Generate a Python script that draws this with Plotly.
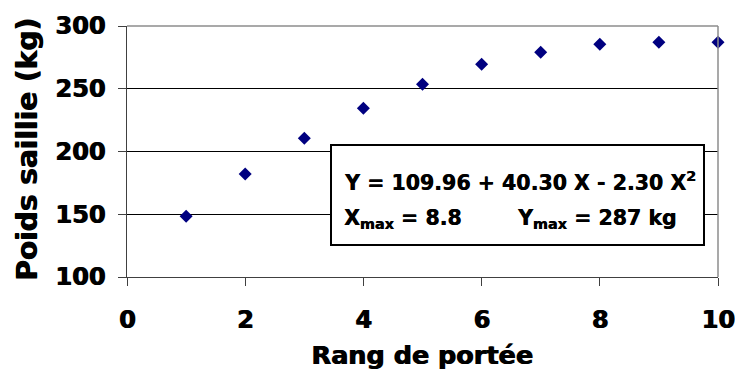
import plotly.graph_objects as go

# Data
rang = [1, 2, 3, 4, 5, 6, 7, 8, 9, 10]
poids = [148.5, 182, 210.5, 234.5, 253.5, 269.5, 279, 285.5, 287, 287]
x_ticks = [0, 2, 4, 6, 8, 10]
y_ticks = [100, 150, 200, 250, 300]
eq_line1 = "Y = 109.96 + 40.30 X - 2.30 X<sup>2</sup>"
eq_xmax = "X<sub>max</sub> = 8.8"
eq_ymax = "Y<sub>max</sub> = 287 kg"
x_title = "Rang de portée"
y_title = "Poids saillie (kg)"

FONT = "DejaVu Sans"
HEAVY = "1px 0px 0px black"
W, H = 735, 371
L, R, T, B = 127, 17, 26, 94
pw, ph = W - L - R, H - T - B

def px_x(p):
    return (p - L) / pw

def px_y(p):
    return (H - B - p) / ph

fig = go.Figure()
fig.add_trace(go.Scatter(
    x=rang, y=poids, mode="markers",
    marker=dict(symbol="diamond", color="#000080", size=10, line=dict(width=0)),
    cliponaxis=False, showlegend=False,
))

tickfont = dict(family=FONT, size=24, color="black", weight="bold", shadow=HEAVY)

fig.update_layout(
    width=W, height=H,
    margin=dict(l=L, r=R, t=T, b=B, pad=0, autoexpand=False),
    paper_bgcolor="white", plot_bgcolor="white",
    xaxis=dict(range=[0, 10], tickvals=x_ticks, ticks="outside", ticklen=8,
               tickcolor="#404040", showline=True, linecolor="#404040", linewidth=1,
               showgrid=False, zeroline=False, tickfont=tickfont,
               ticklabelstandoff=13, automargin=False),
    yaxis=dict(range=[100, 300], tickvals=y_ticks, ticks="outside", ticklen=8,
               tickcolor="#404040", showline=True, linecolor="#404040", linewidth=1,
               showgrid=True, gridcolor="black", gridwidth=1, zeroline=False,
               tickfont=tickfont, ticklabelstandoff=8, automargin=False),
)

# grey top and right borders
fig.add_shape(type="line", xref="paper", yref="paper", x0=0, x1=1, y0=1, y1=1,
              line=dict(color="#8c8c8c", width=1.5), layer="above")
fig.add_shape(type="line", xref="paper", yref="paper", x0=1, x1=1, y0=0, y1=1,
              line=dict(color="#8c8c8c", width=1.5), layer="above")

# equation box
fig.add_shape(type="rect", xref="paper", yref="paper",
              x0=px_x(331), x1=px_x(704), y0=px_y(245), y1=px_y(145),
              line=dict(color="black", width=2), fillcolor="white", layer="above")

boxfont = dict(family=FONT, size=20.5, color="black", weight="bold", shadow="0.5px 0px 0px black")
fig.add_annotation(xref="paper", yref="paper", x=px_x(342), y=px_y(181),
                   xanchor="left", yanchor="middle", text=eq_line1,
                   showarrow=False, font=boxfont)
fig.add_annotation(xref="paper", yref="paper", x=px_x(342), y=px_y(219),
                   xanchor="left", yanchor="middle", text=eq_xmax,
                   showarrow=False, font=boxfont)
fig.add_annotation(xref="paper", yref="paper", x=px_x(515), y=px_y(219),
                   xanchor="left", yanchor="middle", text=eq_ymax,
                   showarrow=False, font=boxfont)

# axis titles
fig.add_annotation(xref="paper", yref="paper", x=px_x(422), y=px_y(355),
                   xanchor="center", yanchor="middle", text=x_title,
                   showarrow=False,
                   font=dict(family=FONT, size=25.5, color="black", weight="bold", shadow=HEAVY))
fig.add_annotation(xref="paper", yref="paper", x=px_x(27), y=px_y(150),
                   xanchor="center", yanchor="middle", text=y_title, textangle=-90,
                   showarrow=False,
                   font=dict(family=FONT, size=28, color="black", weight="bold", shadow=HEAVY))

fig.write_html("out.html")
